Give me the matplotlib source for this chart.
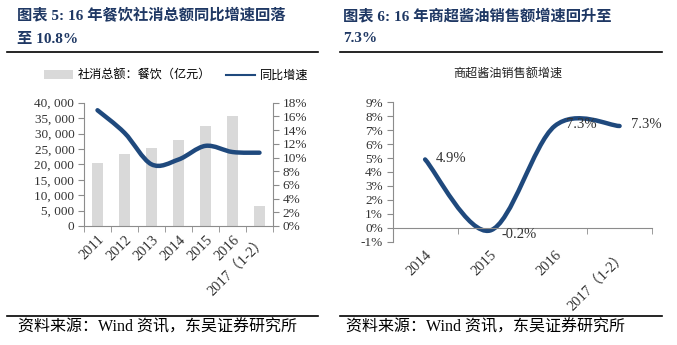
import matplotlib
matplotlib.use("Agg")
import matplotlib.pyplot as plt
from matplotlib.path import Path
from matplotlib.patches import PathPatch, Patch
from matplotlib.lines import Line2D
from matplotlib.ticker import FuncFormatter, FixedLocator

plt.rcParams["font.family"] = ["Liberation Serif", "Noto Sans CJK SC"]

# 餐饮社消总额（亿元）及同比增速
years_left = ["2011", "2012", "2013", "2014", "2015", "2016", "2017（1-2）"]
catering_sales = [20543, 23283, 25392, 27860, 32310, 35799, 6376]
catering_growth = [16.9, 13.6, 9.0, 9.7, 11.7, 10.8, 10.7]

# 商超酱油销售额增速
years_right = ["2014", "2015", "2016", "2017（1-2）"]
soy_growth = [4.9, -0.2, 7.3, 7.3]

W, H = 677, 345
NAVY = "#1F3864"
LINE = "#1F497D"
BAR = "#D9D9D9"
SPINE = "#8C8C8C"
TICK_TXT = "#333333"


def fx(px):
    return px / W


def fy(py):
    return 1 - py / H


def smooth_path(xs, ys):
    # Bezier segments in the style of spreadsheet "smoothed line"
    n = len(xs)
    verts = [(xs[0], ys[0])]
    codes = [Path.MOVETO]
    for i in range(n - 1):
        x0, y0 = xs[max(i - 1, 0)], ys[max(i - 1, 0)]
        x1, y1 = xs[i], ys[i]
        x2, y2 = xs[i + 1], ys[i + 1]
        x3, y3 = xs[min(i + 2, n - 1)], ys[min(i + 2, n - 1)]
        c1 = (x1 + (x2 - x0) / 6, y1 + (y2 - y0) / 6)
        c2 = (x2 - (x3 - x1) / 6, y2 - (y3 - y1) / 6)
        verts += [c1, c2, (x2, y2)]
        codes += [Path.CURVE4] * 3
    return Path(verts, codes)


fig = plt.figure(figsize=(W / 100, H / 100), dpi=100)

# ---- headings and rules
title_kw = dict(fontsize=11, fontweight="bold", color=NAVY, va="center", ha="left")
fig.text(fx(17), fy(16), "图表 5: 16 年餐饮社消总额同比增速回落", **title_kw)
fig.text(fx(17), fy(39), "至 10.8%", **title_kw)
fig.text(fx(343), fy(16), "图表 6: 16 年商超酱油销售额增速回升至", **title_kw)
fig.text(fx(343), fy(39), "7.3%", **title_kw)

for x0, x1 in [(7, 318), (340, 662)]:
    fig.add_artist(Line2D([fx(x0), fx(x1)], [fy(52), fy(52)], color="black", lw=1.2))
    fig.add_artist(Line2D([fx(x0), fx(x1)], [fy(316), fy(316)], color="black", lw=1.2))

foot_kw = dict(fontsize=11.5, color="black", va="center", ha="left")
fig.text(fx(18), fy(328), "资料来源：Wind 资讯，东吴证券研究所", **foot_kw)
fig.text(fx(346), fy(328), "资料来源：Wind 资讯，东吴证券研究所", **foot_kw)

# ---- left chart: bars + growth line
ax = fig.add_axes([fx(84), fy(226), fx(273) - fx(84), fy(102.7) - fy(226)])
xl = list(range(len(years_left)))
ax.bar(xl, catering_sales, width=0.44, color=BAR, zorder=1)
ax.set_xlim(-0.5, len(years_left) - 0.5)
ax.set_ylim(0, 40000)
ax.set_yticks(range(0, 40001, 5000))
ax.yaxis.set_major_formatter(FuncFormatter(lambda v, p: f"{int(v):,}".replace(",", ", ")))

ax2 = ax.twinx()
ax2.set_ylim(0, 18)
ax2.set_yticks(range(0, 19, 2))
ax2.yaxis.set_major_formatter(FuncFormatter(lambda v, p: f"{int(v)}%"))
ax2.add_patch(PathPatch(smooth_path(xl, catering_growth), fill=False,
                        edgecolor=LINE, lw=3.2, capstyle="round", joinstyle="round"))

for a in (ax, ax2):
    a.patch.set_visible(False)
    a.spines["top"].set_visible(False)
    for s in ("left", "right", "bottom"):
        a.spines[s].set_color(SPINE)
        a.spines[s].set_linewidth(0.8)
ax.spines["right"].set_visible(False)
ax2.spines["left"].set_visible(False)
ax2.spines["bottom"].set_visible(False)

ax.set_xticks(xl)
ax.set_xticklabels(years_left, rotation=45, ha="right", va="top",
                   rotation_mode="anchor", fontsize=10.5, color=TICK_TXT)
ax.xaxis.set_minor_locator(FixedLocator([i - 0.5 for i in range(len(years_left) + 1)]))
ax.tick_params(axis="x", which="major", length=0, pad=5)
ax.tick_params(axis="x", which="minor", length=4, color=SPINE, direction="out")
ax.tick_params(axis="y", length=4, color=SPINE, labelsize=9.5, labelcolor=TICK_TXT, pad=3)
ax2.tick_params(axis="y", length=4, color=SPINE, labelsize=9.5, labelcolor=TICK_TXT, pad=3)

fig.legend(handles=[Patch(facecolor=BAR, edgecolor="none", label="社消总额：餐饮（亿元）"),
                    Line2D([], [], color=LINE, lw=1.5, label="同比增速")],
           loc="center", bbox_to_anchor=(fx(176), fy(76)), ncol=2, frameon=False,
           handlelength=2.4, handleheight=0.8, columnspacing=1.2,
           handletextpad=0.4, prop={"size": 8.7})

# ---- right chart: soy sauce growth
bx = fig.add_axes([fx(392.7), fy(241.7), fx(652) - fx(392.7), fy(102.3) - fy(241.7)])
xr = list(range(len(years_right)))
bx.add_patch(PathPatch(smooth_path(xr, soy_growth), fill=False,
                       edgecolor=LINE, lw=3.2, capstyle="round", joinstyle="round"))
bx.set_xlim(-0.5, len(years_right) - 0.5)
bx.set_ylim(-1, 9)
bx.set_yticks(range(-1, 10))
bx.yaxis.set_major_formatter(FuncFormatter(lambda v, p: f"{int(v)}%"))
bx.patch.set_visible(False)
bx.spines["top"].set_visible(False)
bx.spines["right"].set_visible(False)
bx.spines["bottom"].set_position(("data", 0))
for s in ("left", "bottom"):
    bx.spines[s].set_color(SPINE)
    bx.spines[s].set_linewidth(0.8)
bx.set_xticks([])
bx.xaxis.set_minor_locator(FixedLocator([i + 0.5 for i in range(len(years_right))]))
bx.tick_params(axis="x", which="minor", length=4, color=SPINE, direction="out")
bx.tick_params(axis="y", length=4, color=SPINE, labelsize=9.5, labelcolor=TICK_TXT, pad=3)

sec = bx.secondary_xaxis(0)
sec.set_xticks(xr)
sec.set_xticklabels(years_right, rotation=45, ha="right", va="top",
                    rotation_mode="anchor", fontsize=10.5, color=TICK_TXT)
sec.tick_params(length=0, pad=5)
sec.spines["bottom"].set_visible(False)

for x, v in zip(xr, soy_growth):
    bx.annotate(f"{v:.1f}%", (x, v), xytext=(8, -3 if v < 0 else 1),
                textcoords="offset points", ha="left", va="center",
                fontsize=10.5, color=TICK_TXT)

fig.text(fx(508), fy(75), "商超酱油销售额增速", fontsize=8.7, ha="center", va="center",
         color="#222222")

fig.savefig("out.png", dpi=100)
